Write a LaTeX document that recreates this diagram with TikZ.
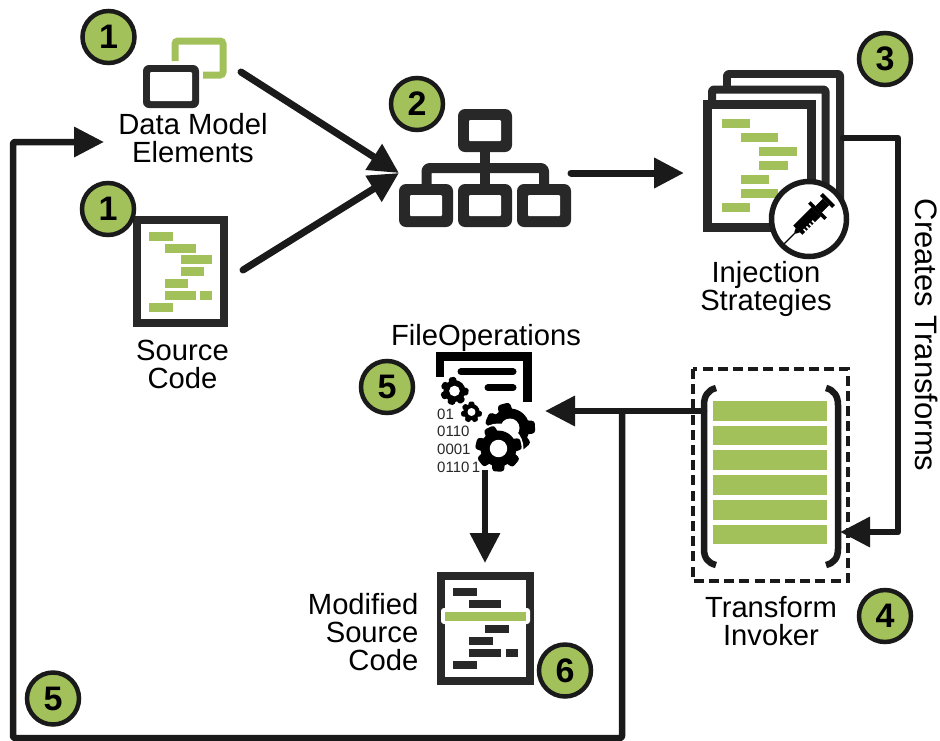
\documentclass[tikz,border=0pt]{standalone}
\usepackage{fontspec}
\setmainfont{Liberation Sans}
\usetikzlibrary{arrows.meta}
\definecolor{lime}{HTML}{A3C15B}
\definecolor{ink}{HTML}{282828}
\definecolor{arrowink}{HTML}{1A1A1A}
\tikzset{
  badge/.style={circle,draw=arrowink,line width=4.5pt,fill=lime,minimum size=52pt,inner sep=0pt,
    font=\fontsize{34}{34}\selectfont\bfseries,text=black},
  lbl/.style={inner sep=0pt,font=\fontsize{29.2}{28}\selectfont,align=center,anchor=base,text=black},
  conn/.style={draw=arrowink,line width=6.5pt,line cap=round,line join=round},
  head/.style={-{Triangle[length=30pt,width=29pt]}},
  docframe/.style={draw=ink,line width=8pt,fill=white,line join=miter},
  hbox/.style={fill=ink,rounded corners=7pt,minimum width=54pt,minimum height=43pt,inner sep=0pt},
  hlink/.style={draw=ink,line width=10pt},
  binary/.style={inner sep=0pt,anchor=base west,font=\fontsize{15}{15}\selectfont,text=ink}
}
\newcommand{\limebar}[3]{\fill[lime] (#1,#3) rectangle (#2,#3+9);}
\newcommand{\inkbar}[3]{\fill[ink] (#1,#3) rectangle (#2,#3+8);}
\newcommand{\hollow}[1]{\fill[white,rounded corners=1pt] ([shift={(-16,-10.5)}]#1.center) rectangle ([shift={(16,10.5)}]#1.center);}
\newcommand{\gearat}[4]{%
  \foreach \a in {0,51.43,...,308}{
    \fill[black,rounded corners=0.12*#3 pt,shift={(#1,#2)},rotate=\a+#4]
      (-0.34*#3,0) -- (-0.25*#3,-#3) -- (0.25*#3,-#3) -- (0.34*#3,0) -- cycle;
  }
  \fill[black] (#1,#2) circle[radius=0.78*#3];
  \fill[white] (#1,#2) circle[radius=0.38*#3];
}
\begin{document}
\begin{tikzpicture}[x=1pt,y=-1pt]
\useasboundingbox (0,0) rectangle (940,740);
\fill[white] (0,0) rectangle (940,740);

% anchors for connectors
\coordinate (dmOut) at (241,72);
\coordinate (srcOut) at (243,270);
\coordinate (hierIn) at (399,173);
\coordinate (hierOut) at (571,173);
\coordinate (injIn) at (684,173);
\coordinate (injOut) at (843,138);
\coordinate (cornerTR) at (898,138);
\coordinate (cornerBR) at (898,532);
\coordinate (invIn) at (840,532);
\coordinate (invOut) at (704,411);
\coordinate (fileIn) at (545,411);
\coordinate (branch) at (622,411);
\coordinate (branchB) at (622,738);
\coordinate (cornerBL) at (13,738);
\coordinate (cornerTL) at (13,142);
\coordinate (dmIn) at (104,142);
\coordinate (fileOut) at (485,470);
\coordinate (modIn) at (485,563);

% data model icon
\draw[lime,line width=7pt,rounded corners=3pt] (175,61) -- (175,41) -- (223,41) -- (223,75) -- (203,75);
\fill[ink,rounded corners=6pt] (143,65) rectangle (199,108);
\fill[white,rounded corners=1pt] (150,72) rectangle (192,101);

% source code
\draw[docframe] (137,220) rectangle (224,323);
\limebar{149}{173}{232}\limebar{165}{196}{244}\limebar{181}{212}{255}\limebar{181}{204}{267}
\limebar{165}{188}{279}\limebar{165}{196}{291}\limebar{200}{212}{291}\limebar{149}{173}{303}

% hierarchy
\draw[hlink,line join=round,rounded corners=3pt] (426.5,186) -- (426.5,168) -- (544,168) -- (544,186);
\draw[hlink] (485,150) -- (485,186);
\node[hbox] (hTop) at (485,130.5) {};
\node[hbox] (hLeft) at (426,205.5) {};
\node[hbox] (hMid) at (485,205.5) {};
\node[hbox] (hRight) at (544,205.5) {};
\hollow{hTop}\hollow{hLeft}\hollow{hMid}\hollow{hRight}

% injection documents
\draw[ink,line width=8pt,line join=round,rounded corners=2pt] (727,86) -- (727,74) -- (840,74) -- (840,205);
\fill[white] (731,78) rectangle (836,100);
\draw[ink,line width=8pt,line join=round,rounded corners=2pt] (712,102) -- (712,89.5) -- (825.5,89.5) -- (825.5,205);
\draw[docframe,line width=9pt] (707.5,104.5) rectangle (811.5,227.5);
\limebar{722}{750}{119}\limebar{741}{778}{133}\limebar{759}{797}{147}\limebar{759}{788}{161}
\limebar{741}{769}{175}\limebar{741}{778}{189}\limebar{722}{750}{203}
\node[circle,draw=arrowink,line width=5.5pt,fill=white,minimum size=75pt,inner sep=0pt] (injector) at (809,219) {};
\begin{scope}[shift={(807,221)},rotate=45,black]
  \fill (-13,-6.5) rectangle (13,6.5);
  \fill (13,-11.5) rectangle (16.5,11.5);
  \fill (16.5,-4.5) rectangle (27,4.5);
  \fill (27,-8.5) rectangle (31,8.5);
  \fill (-13,-3) -- (-17,-1) -- (-17,1) -- (-13,3) -- cycle;
  \draw[line width=1.1pt] (-17,0) -- (-32,0);
  \foreach \u in {-9,-5,-1,3}{\fill[white] (\u,3.5) rectangle (\u+1.6,6.7);}
\end{scope}

% transform invoker
\draw[arrowink,line width=4.5pt,dash pattern=on 10pt off 5.2pt] (693,369) rectangle (848,581);
\foreach \y in {401,425.7,450.4,475.1,499.8,524.5}{\fill[lime] (713,\y) rectangle (827,\y+19.7);}
\draw[conn,line cap=butt] (716,388) .. controls (708,390) and (704,396) .. (704,405) -- (704,549) .. controls (704,558) and (708,563) .. (716,565);
\draw[conn,line cap=butt] (826,388) .. controls (834,390) and (838,396) .. (838,405) -- (838,549) .. controls (838,558) and (834,563) .. (826,565);

% file operations icon
\draw[black,line width=8.5pt] (440,377) -- (440,356.5) -- (527.5,356.5) -- (527.5,402);
\draw[black,line width=7pt,line cap=round] (461,371.7) -- (513,371.7);
\draw[black,line width=7pt,line cap=round] (488,387.7) -- (513,387.7);
\gearat{454.5}{391}{14}{10}
\gearat{471.5}{412}{10.5}{0}
\gearat{510}{428}{25}{15}
\fill[white] (498.5,448.5) circle[radius=25];
\gearat{498.5}{448.5}{23}{25}
\node[binary] (b1) at (437,419) {01};
\node[binary] (b2) at (437,436) {0110};
\node[binary] (b3) at (437,454) {0001};
\node[binary] (b4) at (437,472) {0110\,1};

% modified source code
\draw[docframe] (441,576) rectangle (530,681);
\inkbar{453}{477}{588}\inkbar{469}{501}{600}\inkbar{485}{509}{625}\inkbar{469}{493}{637}
\inkbar{469}{501}{649}\inkbar{506}{518}{649}\inkbar{453}{477}{661}
\fill[white,rounded corners=3pt] (441,608) rectangle (530,624);
\fill[lime] (445,612) rectangle (526,621);

% connectors
\draw[conn,head,line width=7pt] (dmOut) -- (hierIn);
\draw[conn,head,line width=7pt] (srcOut) -- (hierIn);
\draw[conn,head,line width=7pt] (hierOut) -- (injIn);
\draw[conn,head] (injOut) -- (cornerTR) -- (cornerBR) -- (invIn);
\draw[conn,head] (invOut) -- (fileIn);
\draw[conn,head,rounded corners=2pt,line cap=butt] (branch) -- (branchB) -- (cornerBL) -- (cornerTL) -- (dmIn);
\draw[conn,head,line cap=butt] (fileOut) -- (modIn);

% labels
\node[lbl] (tDm) at (193,162.5) {Data Model\\Elements};
\node[lbl] (tSrc) at (182.5,388.5) {Source\\Code};
\node[lbl] (tInj) at (766,310) {Injection\\Strategies};
\node[lbl] (tInv) at (771,645.5) {Transform\\Invoker};
\node[lbl] (tFile) at (486,345) {FileOperations};
\node[lbl,align=right,anchor=base east] (tMod) at (418.5,670.5) {Modified\\Source\\Code};
\node[lbl,font=\fontsize{31}{31}\selectfont,anchor=center,rotate=-90] (tCreates) at (927,335) {Creates Transforms};

% badges
\node[badge] (b1a) at (108.5,37) {1};
\node[badge] (b1b) at (108,209) {1};
\node[badge] (b2a) at (417,104) {2};
\node[badge] (b3a) at (885,59) {3};
\node[badge] (b5a) at (387,387) {5};
\node[badge] (b4a) at (885,616) {4};
\node[badge] (b6a) at (565,670.5) {6};
\node[badge] (b5b) at (53,698.5) {5};
\end{tikzpicture}
\end{document}
